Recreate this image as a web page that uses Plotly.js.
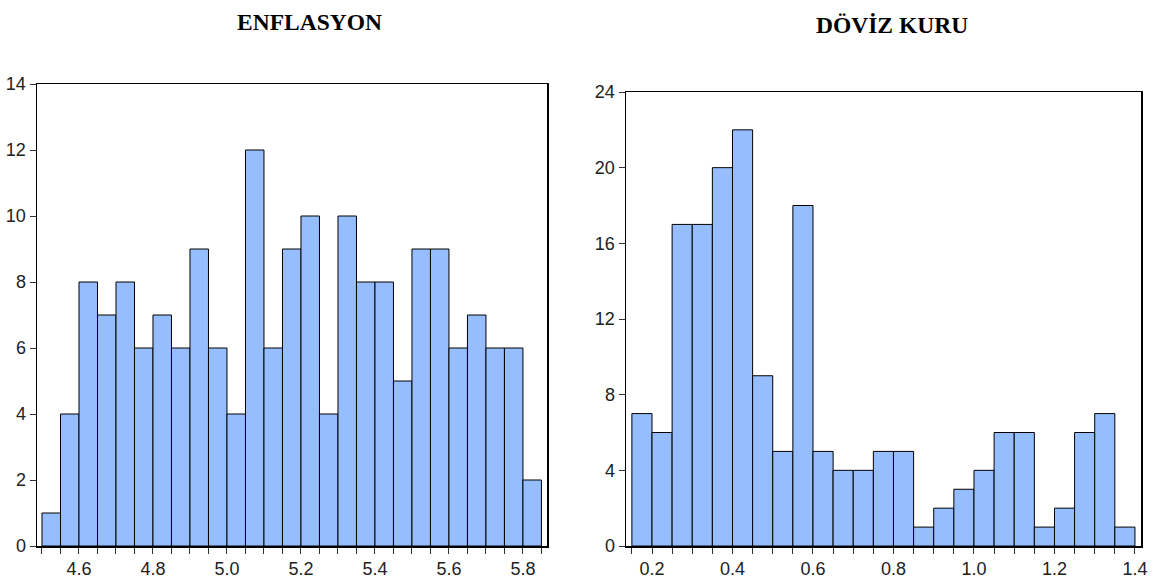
<!DOCTYPE html>
<html>
<head>
<meta charset="utf-8">
<script src="https://cdn.plot.ly/plotly-3.0.1.min.js"></script>
<style>html,body{margin:0;padding:0;background:#fff}#chart{width:1153px;height:584px}</style>
</head>
<body>
<div id="chart"></div>
<script>
// ENFLASYON histogram
const enfTitle = "ENFLASYON";
const enfBinStart = 4.50;
const enfBinWidth = 0.05;
const enfCounts = [1,4,8,7,8,6,7,6,9,6,4,12,6,9,10,4,10,8,8,5,9,9,6,7,6,6,2];
const enfYTicks = [0,2,4,6,8,10,12,14];
const enfXTicks = [4.6,4.8,5.0,5.2,5.4,5.6,5.8];
const enfXLabels = ["4.6","4.8","5.0","5.2","5.4","5.6","5.8"];

// DÖVİZ KURU histogram
const dovTitle = "DÖVİZ KURU";
const dovBinStart = 0.15;
const dovBinWidth = 0.05;
const dovCounts = [7,6,17,17,20,22,9,5,18,5,4,4,5,5,1,2,3,4,6,6,1,2,6,7,1];
const dovYTicks = [0,4,8,12,16,20,24];
const dovXTicks = [0.2,0.4,0.6,0.8,1.0,1.2,1.4];
const dovXLabels = ["0.2","0.4","0.6","0.8","1.0","1.2","1.4"];

const barColor = "#96BEFF";
const tickFont = {family: "'Liberation Sans Narrow', 'Liberation Sans', Arial, sans-serif", size: 18, color: "#222"};
const titleFont = {family: "'Liberation Serif', 'Times New Roman', serif", size: 23.5, color: "#000"};

function centers(start, w, n) { return Array.from({length: n}, (_, i) => start + w * (i + 0.5)); }

const traces = [
  {type: "bar", x: centers(enfBinStart, enfBinWidth, enfCounts.length), y: enfCounts,
   width: enfBinWidth, marker: {color: barColor, line: {color: "#000", width: 1}},
   xaxis: "x", yaxis: "y", hoverinfo: "x+y", showlegend: false},
  {type: "bar", x: centers(dovBinStart, dovBinWidth, dovCounts.length), y: dovCounts,
   width: dovBinWidth, marker: {color: barColor, line: {color: "#000", width: 1}},
   xaxis: "x2", yaxis: "y2", hoverinfo: "x+y", showlegend: false}
];

function xax(domain, range, tv, tt, w) {
  return {domain: domain, range: range, showgrid: false, zeroline: false,
    showline: true, mirror: true, linecolor: "#000", linewidth: 1.5,
    ticks: "outside", ticklen: 6, tickcolor: "#333", tickwidth: 1,
    tickvals: tv, ticktext: tt, tickfont: tickFont, automargin: false,
    minor: {dtick: w, tick0: 0, ticks: "outside", ticklen: 6, tickcolor: "#333", tickwidth: 1, showgrid: false}};
}
function yax(domain, range, tv, anchor) {
  return {domain: domain, range: range, anchor: anchor, showgrid: false, zeroline: false,
    showline: true, mirror: true, linecolor: "#000", linewidth: 1.5,
    ticks: "outside", ticklen: 6, tickcolor: "#333", tickwidth: 1,
    tickvals: tv, ticktext: tv.map(String), tickfont: tickFont, automargin: false};
}

const layout = {
  width: 1153, height: 584,
  margin: {l: 0, r: 0, t: 0, b: 0},
  paper_bgcolor: "#fff", plot_bgcolor: "#fff",
  bargap: 0, showlegend: false,
  xaxis: Object.assign(xax([37/1153, 547/1153], [4.4865, 5.865], enfXTicks, enfXLabels, enfBinWidth), {anchor: "y"}),
  yaxis: yax([38/584, 500/584], [0, 14], enfYTicks, "x"),
  xaxis2: Object.assign(xax([626/1153, 1141/1153], [0.1354, 1.415], dovXTicks, dovXLabels, dovBinWidth), {anchor: "y2"}),
  yaxis2: yax([38/584, 492/584], [0, 24], dovYTicks, "x2"),
  annotations: [
    {text: "<b>" + enfTitle + "</b>", xref: "paper", yref: "paper", x: 309/1153, y: (584-22)/584,
     xanchor: "center", yanchor: "middle", showarrow: false, font: titleFont},
    {text: "<b>" + dovTitle + "</b>", xref: "paper", yref: "paper", x: 892/1153, y: (584-25)/584,
     xanchor: "center", yanchor: "middle", showarrow: false, font: titleFont}
  ]
};

Plotly.newPlot("chart", traces, layout, {displayModeBar: false, staticPlot: true});
</script>
</body>
</html>
